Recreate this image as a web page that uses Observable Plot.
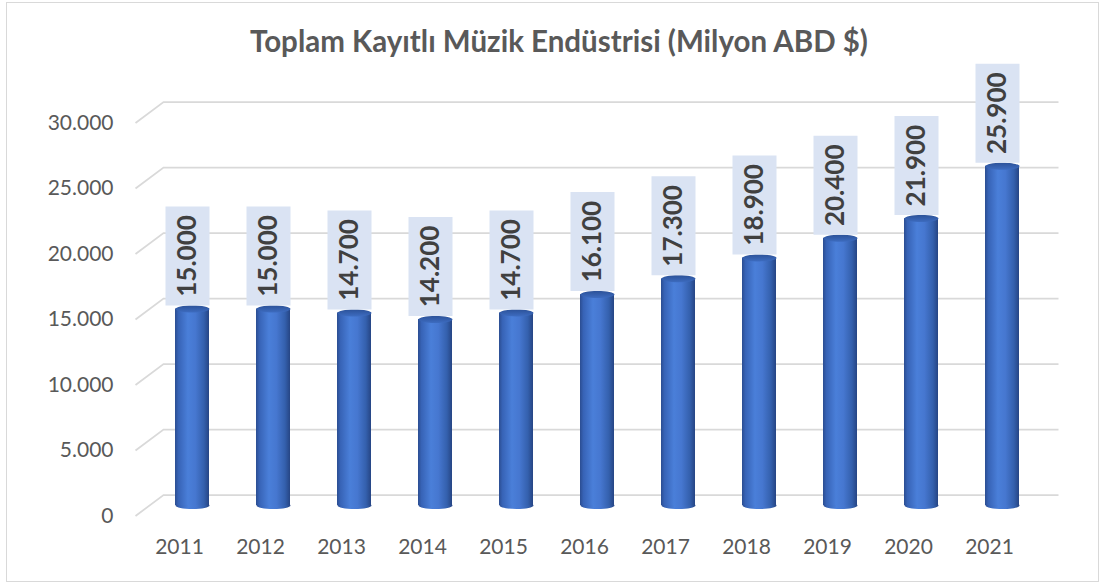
<!DOCTYPE html>
<html>
<head>
<meta charset="utf-8">
<script src="https://cdn.jsdelivr.net/npm/d3@7"></script>
<script src="https://cdn.jsdelivr.net/npm/@observablehq/plot@0.6"></script>
<style>
  html, body { margin: 0; padding: 0; background: #fff; }
  #wrap { position: relative; width: 1104px; height: 585px; overflow: hidden; font-family: Lato, "Open Sans", sans-serif; }
  #frame { position: absolute; left: 6px; top: 2px; width: 1093px; height: 580px; border: 1.5px solid #d9d9d9; box-sizing: border-box; pointer-events: none; }
  #title { height: 56px; box-sizing: border-box; padding-top: 26px; padding-left: 14px; text-align: center; font-weight: 700; font-size: 29.5px; line-height: 30px; color: #595959; white-space: nowrap; }
  #chart svg { display: block; }
</style>
</head>
<body>
<div id="wrap">
  <div id="frame"></div>
  <div id="title">Toplam Kayıtlı Müzik Endüstrisi (Milyon ABD $)</div>
  <div id="chart"></div>
</div>
<script>
const years = ["2011","2012","2013","2014","2015","2016","2017","2018","2019","2020","2021"];
const values = [15000, 15000, 14700, 14200, 14700, 16100, 17300, 18900, 20400, 21900, 25900];
const yTicks = [0, 5000, 10000, 15000, 20000, 25000, 30000];

const data = years.map((year, i) => ({year, value: values[i]}));
const fmt = d3.formatLocale({decimal: ",", thousands: ".", grouping: [3], currency: ["", "$"]}).format(",d");

function ellipse(rx, ry) {
  const kx = rx * 0.5523, ky = ry * 0.5523;
  return {draw(c) {
    c.moveTo(-rx, 0);
    c.bezierCurveTo(-rx, -ky, -kx, -ry, 0, -ry);
    c.bezierCurveTo(kx, -ry, rx, -ky, rx, 0);
    c.bezierCurveTo(rx, ky, kx, ry, 0, ry);
    c.bezierCurveTo(-kx, ry, -rx, ky, -rx, 0);
    c.closePath();
  }};
}
const gridSym = {draw(c) { c.moveTo(-14, 10.5); c.lineTo(14, -10.5); c.lineTo(909, -10.5); }};
const boxSym = {draw(c) { c.rect(-27, -102.5, 44, 99); }};

const plot = Plot.plot({
  width: 1104,
  height: 529,
  marginLeft: 149,
  marginRight: 60,
  marginTop: 56,
  marginBottom: 80,
  style: {color: "#595959", fontFamily: "Lato, 'Open Sans', sans-serif", background: "transparent"},
  x: {domain: years, paddingInner: 0.582, paddingOuter: 0.291, label: null},
  y: {domain: [0, 30000], label: null},
  marks: [
    Plot.dot(yTicks, {y: d => d, frameAnchor: "left", symbol: gridSym, r: 1, fill: "none", stroke: "#d9d9d9", strokeWidth: 1.75}),
    Plot.axisY(yTicks, {tickSize: 0, tickPadding: 36, dy: 10.5, tickFormat: fmt, fontSize: 21}),
    Plot.axisX({tickSize: 0, tickPadding: 34, dx: -13, fontSize: 21}),
    Plot.dot(data, {x: "year", y: () => 0, symbol: ellipse(17, 3.5), r: 1, fill: "url(#cyl)", stroke: "none"}),
    Plot.barY(data, {x: "year", y: "value", fill: "url(#cyl)"}),
    Plot.dot(data, {x: "year", y: "value", symbol: ellipse(17, 3.5), r: 1, fill: "url(#cyltop)", stroke: "none"}),
    Plot.dot(data, {x: "year", y: "value", symbol: boxSym, r: 1, fill: "#dae3f3", stroke: "none"}),
    Plot.text(data, {x: "year", y: "value", text: d => fmt(d.value), rotate: -90, dx: -5, dy: -53, textAnchor: "middle", lineAnchor: "middle", fontSize: 26, fontWeight: 700, fill: "#404040"})
  ]
});

const defs = d3.select(plot).insert("defs", ":first-child");
const g = defs.append("linearGradient").attr("id", "cyl").attr("x1", 0).attr("x2", 1).attr("y1", 0).attr("y2", 0);
[[0, "#2b4d91"], [0.1, "#3763b6"], [0.38, "#4a7fd9"], [0.6, "#4677d0"], [0.85, "#3460ad"], [1, "#264584"]]
  .forEach(([o, c]) => g.append("stop").attr("offset", o).attr("stop-color", c));
const gt = defs.append("linearGradient").attr("id", "cyltop").attr("x1", 0).attr("x2", 0).attr("y1", 0).attr("y2", 1);
[[0, "#2c5299"], [1, "#3d6cc0"]].forEach(([o, c]) => gt.append("stop").attr("offset", o).attr("stop-color", c));

document.getElementById("chart").appendChild(plot);
</script>
</body>
</html>
